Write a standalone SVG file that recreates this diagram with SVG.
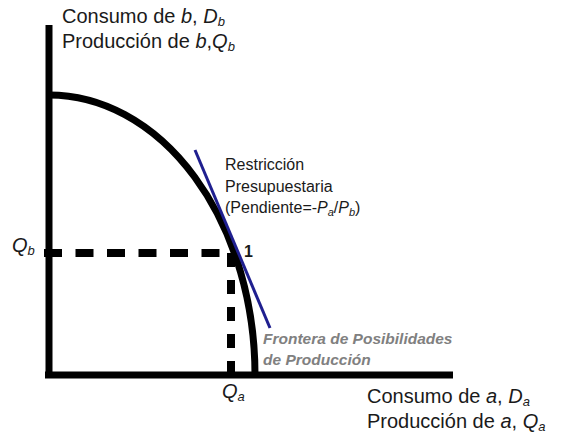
<svg xmlns="http://www.w3.org/2000/svg" width="563" height="437" viewBox="0 0 563 437">
<style>
.t{font-family:"Liberation Sans",Arial,sans-serif;fill:#1a1a1a;font-size:20px}
.s{font-family:"Liberation Sans",Arial,sans-serif;fill:#1a1a1a;font-size:16px}
.g{font-family:"Liberation Sans",Arial,sans-serif;fill:#808080;font-size:15.5px;font-style:italic;font-weight:bold}
.ax{stroke:#000;stroke-width:7;fill:none}
.dash{stroke:#000;stroke-width:8;fill:none}
</style>
<rect width="563" height="437" fill="#fff"/>
<g id="connectors">
<g id="axes">
<line class="ax" x1="49" y1="25" x2="49" y2="378"/>
<line class="ax" x1="45" y1="375" x2="453" y2="375"/>
</g>
<g id="guides">
<line class="dash" x1="44" y1="253" x2="233" y2="253" stroke-dasharray="18 13.5"/>
<line class="dash" x1="231" y1="253" x2="231" y2="372" stroke-dasharray="14 13"/>
</g>
<path id="frontier-curve" class="ax" d="M49 95 A206 280 0 0 1 255 375"/>
<line id="budget-line" x1="195" y1="150" x2="270" y2="328" stroke="#1f1f8f" stroke-width="3"/>
</g>
<g id="y-label">
<text class="t" x="62" y="23">Consumo de <tspan font-style="italic">b</tspan>, <tspan font-style="italic">D</tspan><tspan font-style="italic" font-size="13" dy="3">b</tspan></text>
<text class="t" x="62" y="48">Producción de <tspan font-style="italic">b</tspan>,<tspan font-style="italic">Q</tspan><tspan font-style="italic" font-size="13" dy="3">b</tspan></text>
</g>
<g id="x-label">
<text class="t" x="367" y="403">Consumo de <tspan font-style="italic">a</tspan>, <tspan font-style="italic">D</tspan><tspan font-style="italic" font-size="13" dy="3">a</tspan></text>
<text class="t" x="367" y="428">Producción de <tspan font-style="italic">a</tspan>, <tspan font-style="italic">Q</tspan><tspan font-style="italic" font-size="13" dy="3">a</tspan></text>
</g>
<g id="qb-label">
<text class="t" x="12" y="252" font-style="italic">Q<tspan font-size="13" dy="3">b</tspan></text>
</g>
<g id="qa-label">
<text class="t" x="222" y="398" font-style="italic">Q<tspan font-size="13" dy="3">a</tspan></text>
</g>
<g id="point-1">
<text class="s" x="244" y="257" font-weight="bold" fill="#1f2a44">1</text>
</g>
<g id="budget-label">
<text class="s" x="225" y="170">Restricción</text>
<text class="s" x="225" y="192">Presupuestaria</text>
<text class="s" x="225" y="213">(Pendiente=-<tspan font-style="italic">P</tspan><tspan font-style="italic" font-size="11" dy="3">a</tspan><tspan dy="-3">/</tspan><tspan font-style="italic">P</tspan><tspan font-style="italic" font-size="11" dy="3">b</tspan><tspan dy="-3">)</tspan></text>
</g>
<g id="frontier-label">
<text class="g" x="263" y="344">Frontera de Posibilidades</text>
<text class="g" x="263" y="365">de Producción</text>
</g>
</svg>
